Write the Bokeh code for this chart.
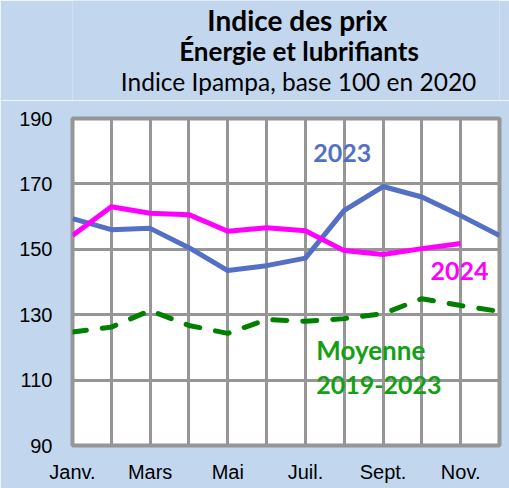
from bokeh.plotting import figure
from bokeh.models import Range1d, FixedTicker, Label
from bokeh.layouts import column
from bokeh.core.properties import value
from bokeh.embed import file_html
from bokeh.resources import INLINE

months = ["Janv.", "Févr.", "Mars", "Avr.", "Mai", "Juin", "Juil.", "Août", "Sept.", "Oct.", "Nov.", "Déc."]
x_idx = list(range(12))
y2023 = [159.4, 156.0, 156.4, 150.5, 143.5, 145.0, 147.3, 161.9, 169.2, 166.0, 160.3, 154.2]
y2024 = [154.2, 163.0, 161.0, 160.6, 155.5, 156.6, 155.7, 149.6, 148.4, 150.2, 151.8]
ymoy = [124.7, 126.2, 131.3, 126.7, 124.3, 128.5, 128.0, 128.8, 130.3, 134.9, 132.8, 131.0]
y_ticks = [90, 110, 130, 150, 170, 190]
x_label_ticks = [0, 2, 4, 6, 8, 10]
titles = ["Indice des prix", "Énergie et lubrifiants", "Indice Ipampa, base 100 en 2020"]

BG = "#C2D7EE"
GRID = "#969696"
TOP_H = 100

# --- title band ---
t = figure(width=509, height=TOP_H, output_backend="svg", toolbar_location=None,
           x_range=Range1d(0, 509), y_range=Range1d(TOP_H, 0),
           min_border=0, min_border_left=0, min_border_right=0,
           min_border_top=0, min_border_bottom=0,
           x_axis_location=None, y_axis_location=None)
t.background_fill_color = BG
t.border_fill_color = BG
t.outline_line_color = None
t.grid.visible = False
t.text(x=[268], y=[19], text=[titles[0]], text_align="center", text_baseline="middle",
       text_font=value("Lato"), text_font_style="bold", text_font_size="28px", text_color="black")
t.text(x=[270], y=[50], text=[titles[1]], text_align="center", text_baseline="middle",
       text_font=value("Lato"), text_font_style="bold", text_font_size="26px", text_color="black")
t.text(x=[269.5], y=[81], text=[titles[2]], text_align="center", text_baseline="middle",
       text_font=value("Lato"), text_font_style="normal", text_font_size="24.5px", text_color="black")

# --- chart ---
p = figure(width=509, height=488 - TOP_H, output_backend="svg", toolbar_location=None,
           x_range=Range1d(0, 11), y_range=Range1d(90, 190),
           min_border_left=72, min_border_right=10, min_border_bottom=43,
           min_border_top=118 - TOP_H)
p.background_fill_color = "white"
p.border_fill_color = BG
p.outline_line_color = GRID
p.outline_line_width = 4

p.xgrid.ticker = FixedTicker(ticks=x_idx)
p.ygrid.ticker = FixedTicker(ticks=y_ticks)
for g in (p.xgrid, p.ygrid):
    g.grid_line_color = GRID
    g.grid_line_width = 3
    g.level = "underlay"

p.xaxis.ticker = FixedTicker(ticks=x_label_ticks)
p.xaxis.major_label_overrides = {i: months[i] for i in x_label_ticks}
p.yaxis.ticker = FixedTicker(ticks=y_ticks)
for ax in (p.xaxis, p.yaxis):
    ax.axis_line_color = None
    ax.major_tick_line_color = None
    ax.minor_tick_line_color = None
    ax.major_label_text_font = "Liberation Sans"
    ax.major_label_text_font_size = "20px"
    ax.major_label_text_color = "black"
p.yaxis.major_label_standoff = 14
p.xaxis.major_label_standoff = 9

p.line(x_idx, ymoy, line_color="#008000", line_width=5, line_dash="14 16", line_cap="round")
p.line(x_idx, y2023, line_color="#5470C6", line_width=5, line_join="round")
p.line(x_idx[:len(y2024)], y2024, line_color="#FF00FF", line_width=5, line_join="round")

lab_font = "Lato"
p.add_layout(Label(x=6.95, y=179.6, text="2023", text_align="center", text_baseline="middle",
                   text_font=lab_font, text_font_style="bold", text_font_size="25px",
                   text_color="#5470C6"))
p.add_layout(Label(x=9.97, y=143.5, text="2024", text_align="center", text_baseline="middle",
                   text_font=lab_font, text_font_style="bold", text_font_size="25px",
                   text_color="#FF00FF"))
p.add_layout(Label(x=6.28, y=119.3, text="Moyenne", text_align="left", text_baseline="middle",
                   text_font=lab_font, text_font_style="bold", text_font_size="26px",
                   text_color="#14A014"))
p.add_layout(Label(x=6.28, y=108.5, text="2019-2023", text_align="left", text_baseline="middle",
                   text_font=lab_font, text_font_style="bold", text_font_size="25px",
                   text_color="#14A014"))

layout = column(t, p, spacing=0)
open("out.html", "w").write(file_html(layout, INLINE))
